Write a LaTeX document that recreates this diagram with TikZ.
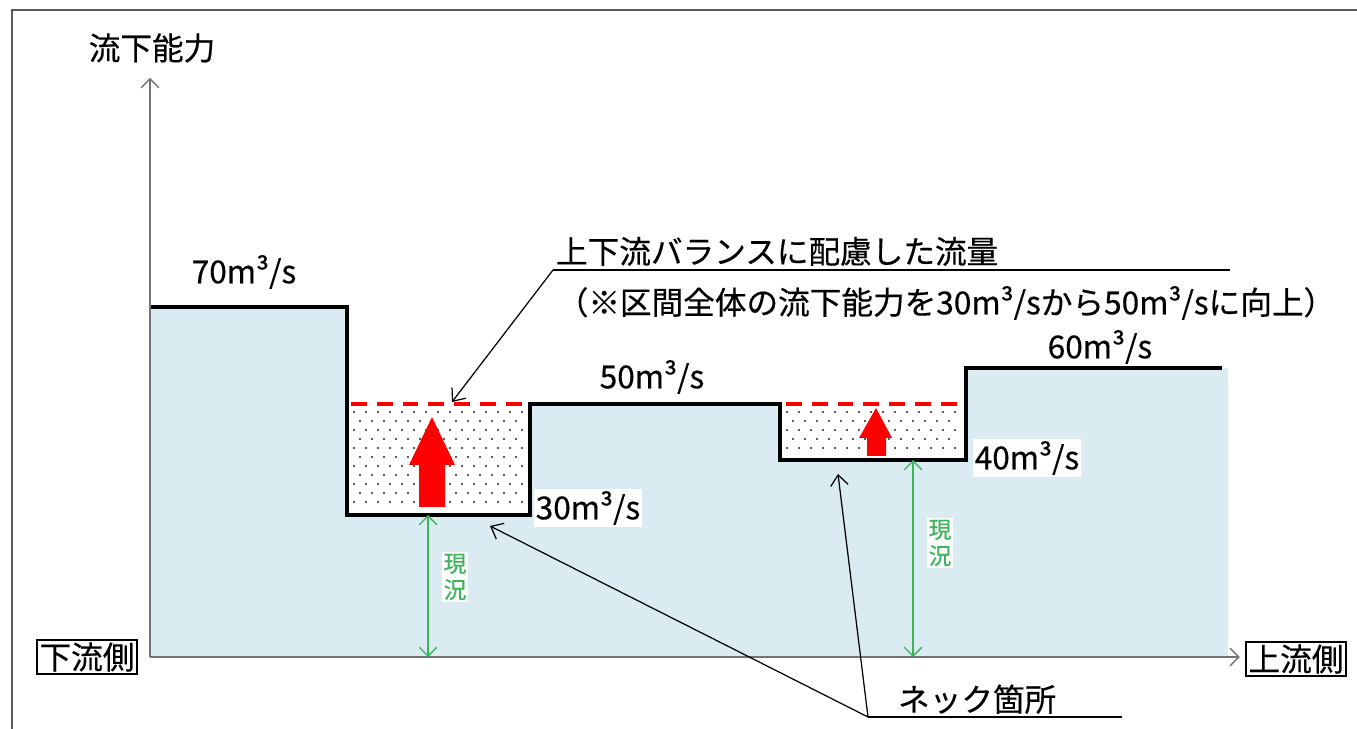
\documentclass[tikz,border=0pt]{standalone}
\usepackage{fontspec}
\setmainfont{Noto Sans CJK JP}[FakeBold=0.4]
\usetikzlibrary{arrows.meta}
\definecolor{riverblue}{RGB}{218,235,242}
\definecolor{nowgreen}{RGB}{60,180,90}
\definecolor{framegray}{RGB}{90,90,90}
\begin{document}
\begin{tikzpicture}[x=0.02cm, y=-0.02cm,
    jp/.style={font=\fontsize{18}{20}\selectfont, inner sep=1pt},
    rate/.style={jp},
    side/.style={jp, draw, line width=1pt, inner sep=1.5pt},
    now/.style={font=\fontsize{13}{15}\selectfont, text=nowgreen, fill=white, align=center, inner sep=1pt},
    profile/.style={line width=1.8pt},
    plan/.style={red, line width=2.7pt, dash pattern=on 9pt off 5.7pt},
    axis/.style={black!55, line width=0.8pt, -{Straight Barb[length=5pt, width=10pt]}},
    depth/.style={nowgreen, line width=0.8pt, {Straight Barb[length=5pt, width=10pt]}-{Straight Barb[length=5pt, width=10pt]}},
    note/.style={line width=0.7pt, -{Straight Barb[length=6pt, width=10pt]}}
]
\useasboundingbox (0,0) rectangle (1357,729);

% Frame
\draw[framegray, line width=1.6pt] (12,729) -- (12,10) -- (1357,10);

% Water area
\fill[riverblue] (150,657) -- (150,307) -- (347,307) -- (347,515) -- (530,515)
  -- (530,404) -- (780,404) -- (780,460) -- (966,460) -- (966,368)
  -- (1228,368) -- (1228,657) -- cycle;

% Bottlenecks (dotted)
\fill[white] (347,404) rectangle (530,515);
\fill[white] (780,404) rectangle (966,460);
\foreach \y in {412,430,...,508}
  \foreach \x in {354,366,...,524}
    \fill[black!85] (\x,\y) circle (0.6pt);
\foreach \y in {421,439,...,508}
  \foreach \x in {360,372,...,524}
    \fill[black!85] (\x,\y) circle (0.6pt);
\foreach \y in {412,430,448}
  \foreach \x in {787,799,...,960}
    \fill[black!85] (\x,\y) circle (0.6pt);
\foreach \y in {421,439}
  \foreach \x in {793,805,...,960}
    \fill[black!85] (\x,\y) circle (0.6pt);

% Profile
\draw[profile] (150,307) -- (347,307) -- (347,515) -- (530,515) -- (530,404)
  -- (780,404) -- (780,460) -- (966,460) -- (966,368) -- (1222,368);

% Planned level
\draw[plan] (351,404) -- (528,404);
\draw[plan] (786,404) -- (966,404);

% Raise arrows
\fill[red] (419,507) -- (445,507) -- (445,465) -- (455,465) -- (432,417)
  -- (409,465) -- (419,465) -- cycle;
\fill[red] (867,456) -- (886,456) -- (886,438) -- (892,438) -- (876,408)
  -- (859,438) -- (867,438) -- cycle;

% Axes
\coordinate (o) at (150,657);
\coordinate (ytop) at (150,78);
\node[jp] (ylabel) at (152,48) {流下能力};
\node[side] (down) at (87,657) {下流側};
\node[side] (up) at (1296,659) {上流側};
\draw[axis] (o) -- (ytop);
\draw[axis, shorten >=3pt] (o) -- (o -| up.west);

% Flow rates
\node[rate] (q70) at (244,272) {70m³/s};
\node[rate] (q50) at (652,377) {50m³/s};
\node[rate] (q60) at (1100,347) {60m³/s};
\node[rate, fill=white] (q30) at (588,508) {30m³/s};
\node[rate, fill=white] (q40) at (1027,458) {40m³/s};

% Present state
\coordinate (now1t) at (428,515);
\coordinate (now1b) at (428,657);
\coordinate (now2t) at (913,460);
\coordinate (now2b) at (913,657);
\draw[depth] (now1t) -- (now1b);
\draw[depth] (now2t) -- (now2b);
\node[now] (now1) at (455,577) {現\\況};
\node[now] (now2) at (940,543) {現\\況};

% Balanced flow note
\coordinate (planl) at (553,270);
\coordinate (planr) at (1230,270);
\coordinate (plantip) at (452,402);
\node[jp, anchor=south west] (plan) at (554,268) {上下流バランスに配慮した流量};
\node[jp] (range) at (946,303) {（※区間全体の流下能力を30m³/sから50m³/sに向上）};
\draw[line width=0.8pt] (planl) -- (planr);
\draw[note] (planl) -- (plantip);

% Bottleneck note
\coordinate (neckl) at (868,717);
\coordinate (neckr) at (1122,717);
\coordinate (neck1) at (490,526);
\coordinate (neck2) at (838,474);
\node[jp, anchor=south west] (neck) at (896,716) {ネック箇所};
\draw[line width=0.8pt] (neckl) -- (neckr);
\draw[note] (neckl) -- (neck1);
\draw[note] (neckl) -- (neck2);

\end{tikzpicture}
\end{document}
